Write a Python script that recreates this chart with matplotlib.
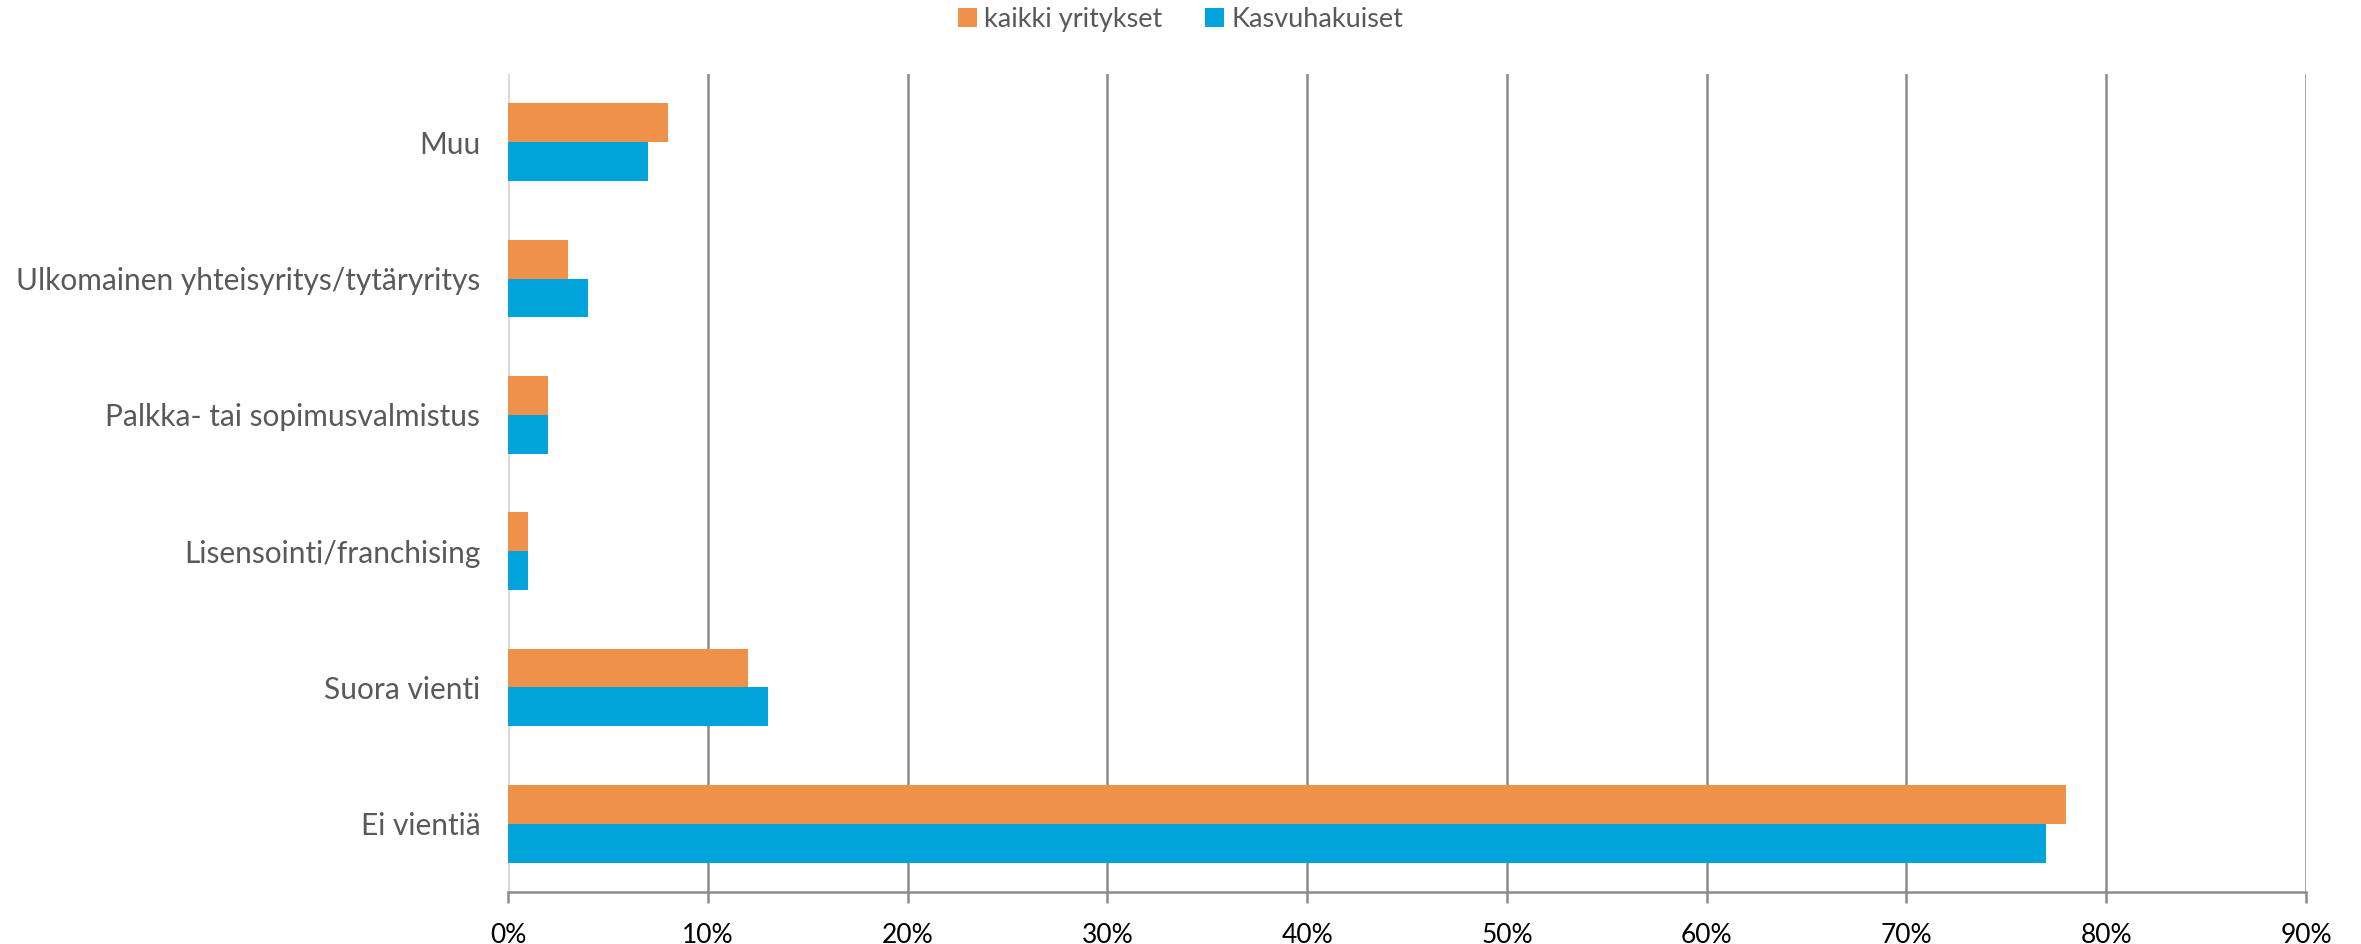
import matplotlib
matplotlib.use("Agg")
import matplotlib.pyplot as plt
import numpy as np

categories = ["Ei vientiä", "Suora vienti", "Lisensointi/franchising",
              "Palkka- tai sopimusvalmistus", "Ulkomainen yhteisyritys/tytäryritys", "Muu"]
kaikki = [78, 12, 1, 2, 3, 8]
kasvu = [77, 13, 1, 2, 4, 7]
series_names = ["kaikki yritykset", "Kasvuhakuiset"]
xticks = [0, 10, 20, 30, 40, 50, 60, 70, 80, 90]

orange = "#F0914B"
blue = "#00A4DA"

fig = plt.figure(figsize=(23.61, 9.44), dpi=100)
ax = fig.add_axes([0.2152, 0.0551, 0.7615, 0.8665])

y = np.arange(len(categories))
h = 0.286
ax.barh(y + h / 2, kaikki, height=h, color=orange, label=series_names[0])
ax.barh(y - h / 2, kasvu, height=h, color=blue, label=series_names[1])

ax.set_xlim(0, 90)
ax.set_ylim(-0.5, len(categories) - 0.5)
ax.set_xticks(xticks)
ax.set_xticklabels([f"{v}%" for v in xticks], fontsize=19, family="Lato", color="black")
ax.set_yticks(y)
ax.set_yticklabels(categories, fontsize=21.5, family="Lato", color="#595959")

for v in xticks[1:]:
    ax.axvline(v, color="#8c8c8c", lw=1.8, zorder=0)
ax.axvline(0, color="#d9d9d9", lw=2, zorder=0)

for s in ["top", "right", "left"]:
    ax.spines[s].set_visible(False)
ax.spines["bottom"].set_color("#8c8c8c")
ax.spines["bottom"].set_linewidth(1.8)
ax.tick_params(axis="x", length=8, width=1.8, color="#8c8c8c", pad=14)
ax.tick_params(axis="y", length=0, pad=20)

leg = fig.legend(loc="upper center", bbox_to_anchor=(0.5, 1.018), ncol=2, frameon=False,
                 prop={"family": "Lato", "size": 19.5}, handlelength=0.7, handleheight=0.7,
                 handletextpad=0.25, columnspacing=1.6)
for t in leg.get_texts():
    t.set_color("#595959")

fig.savefig("out.png", dpi=100)
